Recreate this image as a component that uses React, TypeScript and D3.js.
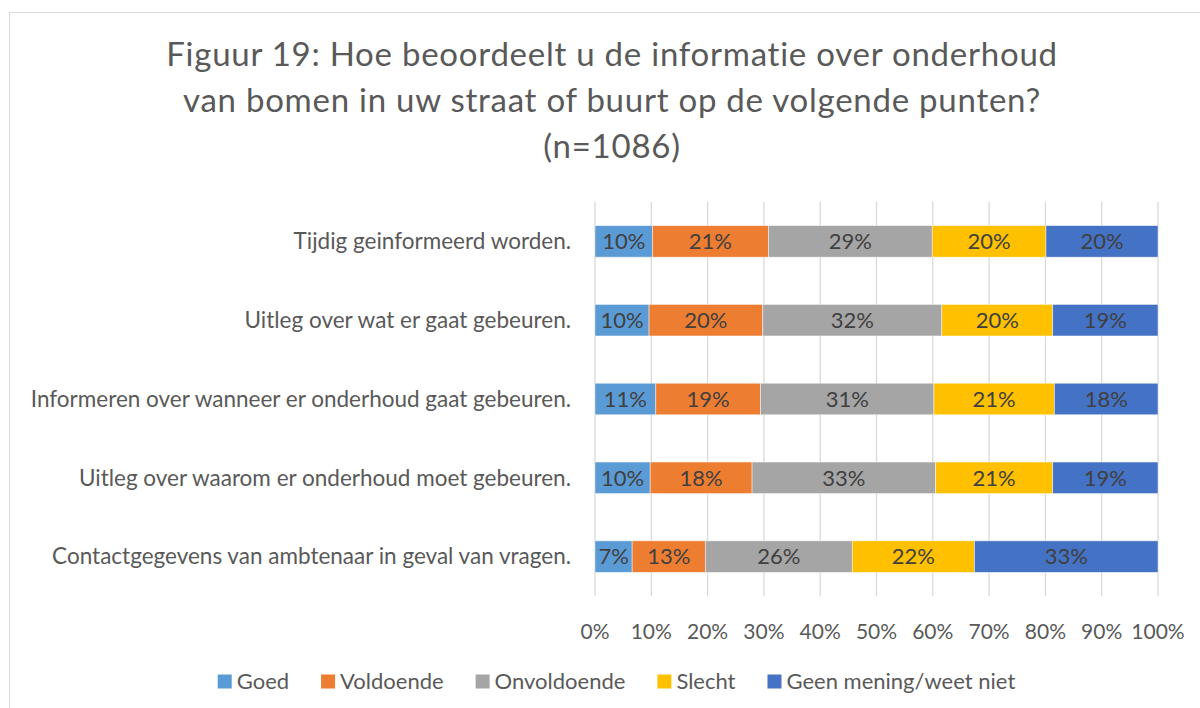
import React, { useEffect, useRef } from "react";
import * as d3 from "d3";

const titleLines = [
  "Figuur 19: Hoe beoordeelt u de informatie over onderhoud",
  "van bomen in uw straat of buurt op de volgende punten?",
  "(n=1086)",
];

const categories = [
  "Tijdig geinformeerd worden.",
  "Uitleg over wat er gaat gebeuren.",
  "Informeren over wanneer er onderhoud gaat gebeuren.",
  "Uitleg over waarom er onderhoud moet gebeuren.",
  "Contactgegevens van ambtenaar in geval van vragen.",
];

const seriesNames = ["Goed", "Voldoende", "Onvoldoende", "Slecht", "Geen mening/weet niet"];
const seriesColors = ["#5B9BD5", "#ED7D31", "#A5A5A5", "#FFC000", "#4472C4"];

const goed = [0.102, 0.096, 0.108, 0.098, 0.066];
const voldoende = [0.206, 0.202, 0.186, 0.181, 0.13];
const onvoldoende = [0.291, 0.318, 0.308, 0.326, 0.261];
const slecht = [0.202, 0.197, 0.214, 0.208, 0.217];
const geenMening = [0.199, 0.187, 0.184, 0.187, 0.326];

const tickValues = [0, 0.1, 0.2, 0.3, 0.4, 0.5, 0.6, 0.7, 0.8, 0.9, 1.0];

const FONT = "Lato, 'Open Sans', sans-serif";
const FS = 22;

export default function App() {
  const ref = useRef<SVGSVGElement | null>(null);

  useEffect(() => {
    const svg = d3.select(ref.current);
    svg.selectAll("*").remove();
    const cx = 612;

    // border
    svg.append("rect")
      .attr("x", 9.5).attr("y", 12.5)
      .attr("width", 1230).attr("height", 720)
      .attr("fill", "#fff").attr("stroke", "#D9D9D9").attr("stroke-width", 1);

    // title
    const title = svg.append("text")
      .attr("text-anchor", "middle")
      .attr("font-family", FONT)
      .attr("font-size", 33)
      .attr("letter-spacing", 0.75)
      .attr("fill", "#595959");
    titleLines.forEach((l, i) => {
      title.append("tspan").attr("x", cx).attr("y", 66 + i * 46).text(l);
    });

    const rows = categories.map((c, i) => ({
      cat: c,
      Goed: goed[i],
      Voldoende: voldoende[i],
      Onvoldoende: onvoldoende[i],
      Slecht: slecht[i],
      "Geen mening/weet niet": geenMening[i],
    }));

    const x = d3.scaleLinear().domain([0, 1]).range([595, 1158]);
    const y = d3.scaleBand().domain(categories).range([202, 596]).paddingInner(0.6).paddingOuter(0.3);

    // gridlines
    svg.append("g").selectAll("line").data(tickValues).join("line")
      .attr("x1", (d) => x(d)).attr("x2", (d) => x(d))
      .attr("y1", 202).attr("y2", 596)
      .attr("stroke", "#D9D9D9").attr("stroke-width", 1.3);

    const stack = d3.stack<any>().keys(seriesNames)(rows as any);

    const fmt = d3.format(".0%");
    stack.forEach((layer, si) => {
      const g = svg.append("g");
      g.selectAll("rect").data(layer).join("rect")
        .attr("x", (d) => x(d[0]))
        .attr("y", (d: any) => y(d.data.cat)!)
        .attr("width", (d) => x(d[1]) - x(d[0]))
        .attr("height", y.bandwidth())
        .attr("fill", seriesColors[si])
        .attr("stroke", "#ffffff").attr("stroke-width", 0.75).attr("stroke-opacity", 0.6);
      g.selectAll("text").data(layer).join("text")
        .attr("x", (d) => (x(d[0]) + x(d[1])) / 2)
        .attr("y", (d: any) => y(d.data.cat)! + y.bandwidth() / 2)
        .attr("dy", "0.35em")
        .attr("text-anchor", "middle")
        .attr("font-family", FONT).attr("font-size", FS)
        .attr("fill", "#404040")
        .text((d) => fmt(d[1] - d[0]));
    });

    // category labels
    svg.append("g").selectAll("text").data(categories).join("text")
      .attr("x", 571)
      .attr("y", (d) => y(d)! + y.bandwidth() / 2)
      .attr("dy", "0.35em")
      .attr("text-anchor", "end")
      .attr("font-family", FONT).attr("font-size", 22.5)
      .attr("fill", "#595959")
      .text((d) => d);

    // x tick labels
    svg.append("g").selectAll("text").data(tickValues).join("text")
      .attr("x", (d) => x(d))
      .attr("y", 632)
      .attr("dy", "0.35em")
      .attr("text-anchor", "middle")
      .attr("font-family", FONT).attr("font-size", 21)
      .attr("fill", "#595959")
      .text((d) => fmt(d));

    // legend
    const lg = svg.append("g");
    const items = lg.selectAll("g").data(seriesNames).join("g");
    items.append("rect").attr("width", 14).attr("height", 14).attr("y", -7)
      .attr("fill", (d, i) => seriesColors[i]);
    const texts = items.append("text")
      .attr("x", 19).attr("dy", "0.35em")
      .attr("font-family", FONT).attr("font-size", FS)
      .attr("fill", "#595959")
      .text((d) => d);
    const widths: number[] = [];
    texts.each(function () { widths.push((this as SVGTextElement).getComputedTextLength()); });
    const gap = 32;
    let total = 0;
    const offs: number[] = [];
    widths.forEach((w, i) => { offs.push(total); total += 19 + w + (i < widths.length - 1 ? gap : 0); });
    const startX = 616.5 - total / 2;
    items.attr("transform", (d, i) => `translate(${startX + offs[i]},681.5)`);
  }, []);

  return (
    <div style={{ position: "absolute", left: 0, top: 0 }}>
      <svg ref={ref} width={1200} height={708} style={{ display: "block" }} />
    </div>
  );
}
